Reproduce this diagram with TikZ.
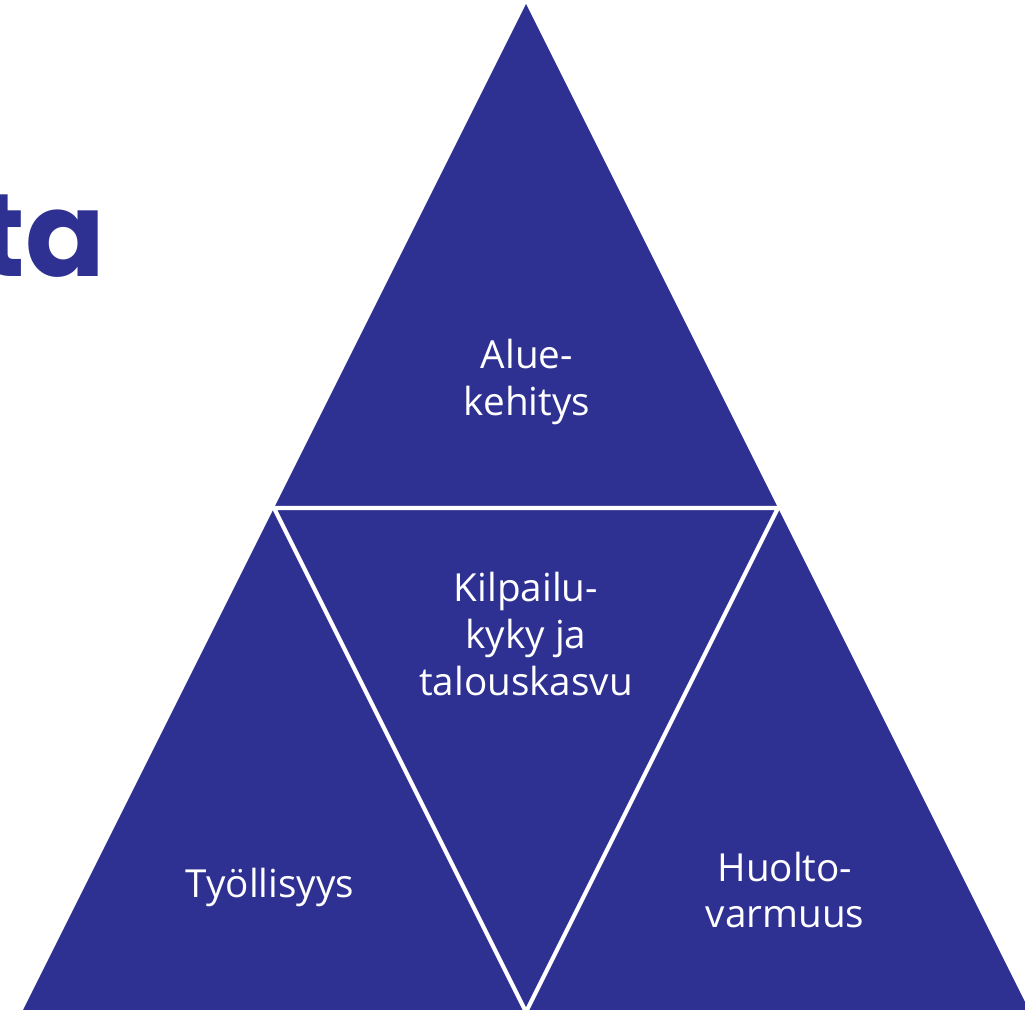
\documentclass[tikz,border=0pt]{standalone}
\usepackage{fontspec}
\usepackage{tikz}
\setmainfont{Open Sans}
\newfontfamily\headfont{Poppins}
\definecolor{navy}{RGB}{46,49,146}

\begin{document}
\begin{tikzpicture}[x=0.02cm,y=-0.02cm,
  lbl/.style={text=white,align=center,font=\fontsize{22}{26.5}\selectfont,inner sep=0pt},
  gap/.style={draw=white,line width=2.4pt}]
\useasboundingbox (0,0) rectangle (1025,1010);
\clip (0,0) rectangle (1025,1010);

% ---------- the pyramid ----------
\coordinate (top) at (526,4);
\coordinate (bl) at (22,1012);
\coordinate (br) at (1030,1012);
\coordinate (ml) at (274,508);
\coordinate (mr) at (778,508);
\coordinate (mb) at (526,1012);
\fill[navy] (top)--(bl)--(br)--cycle;
\draw[gap] (ml)--(mr)--(mb)--cycle;

% ---------- labels ----------
\node[lbl] (alue) at (527,382) {Alue-\\kehitys};
\node[lbl] (kilp) at (526,634) {Kilpailu-\\kyky ja\\talouskasvu};
\node[lbl] (tyo) at (270,887) {Työllisyys};
\node[lbl] (huol) at (785,890) {Huolto-\\varmuus};

% ---------- cut title ----------
\node[text=navy,anchor=base east,inner sep=0pt,font=\headfont\bfseries\fontsize{67}{70}\selectfont] (ttl) at (106,277) {ta};
\end{tikzpicture}
\end{document}
